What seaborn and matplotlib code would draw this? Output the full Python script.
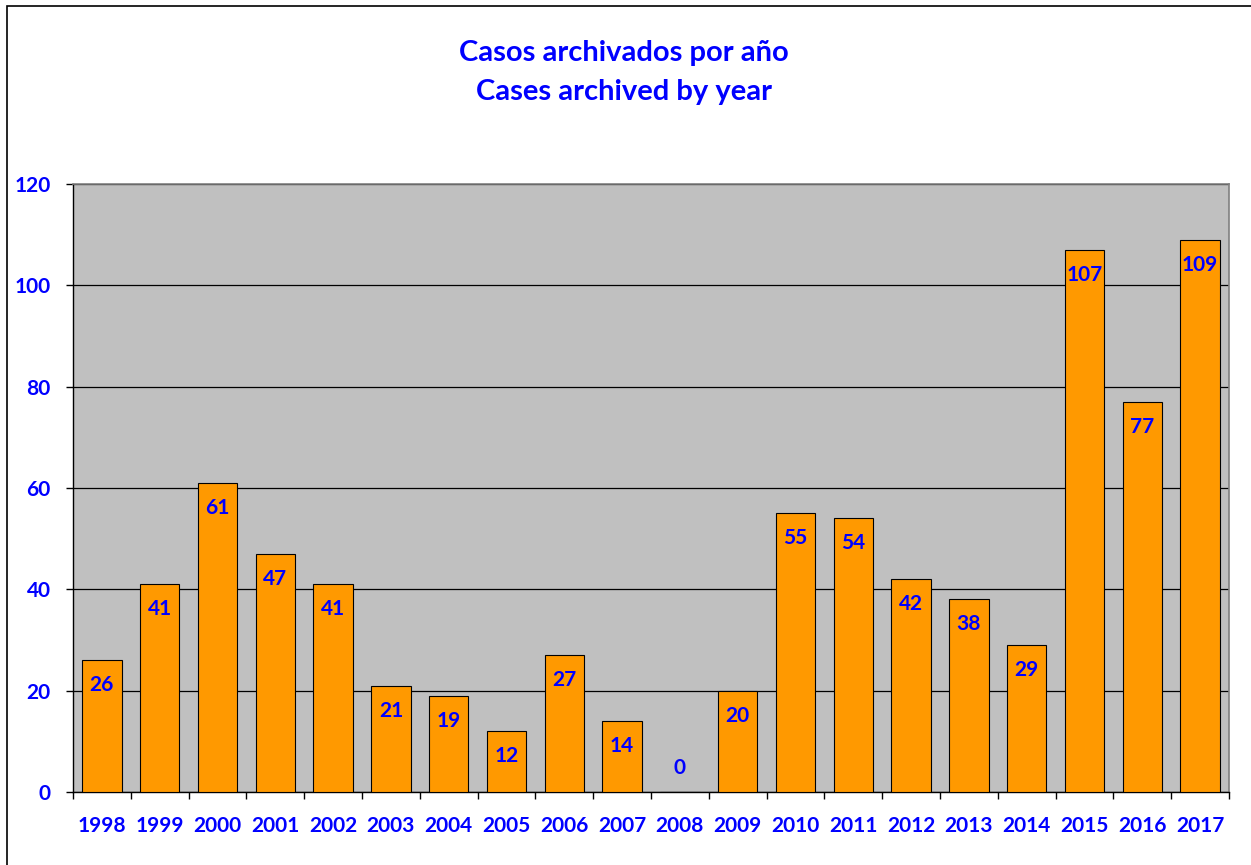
import matplotlib
matplotlib.use("Agg")
import matplotlib.pyplot as plt
import seaborn as sns
import pandas as pd
from matplotlib.patches import Rectangle

years = ["1998", "1999", "2000", "2001", "2002", "2003", "2004", "2005", "2006", "2007",
         "2008", "2009", "2010", "2011", "2012", "2013", "2014", "2015", "2016", "2017"]
cases = [26, 41, 61, 47, 41, 21, 19, 12, 27, 14, 0, 20, 55, 54, 42, 38, 29, 107, 77, 109]
title_lines = ["Casos archivados por año", "Cases archived by year"]
yticks = [0, 20, 40, 60, 80, 100, 120]

sns.set_theme(style="white")
plt.rcParams['font.family'] = ['Lato', 'DejaVu Sans']

W, H = 1251, 865
fig = plt.figure(figsize=(W / 100, H / 100), dpi=100)
ax = fig.add_axes([73 / W, 1 - 792 / H, (1229 - 73) / W, (792 - 184) / H])

df = pd.DataFrame({"year": years, "cases": cases})
sns.barplot(data=df, x="year", y="cases", ax=ax, color="#FF9900", saturation=1,
            width=0.68, edgecolor="black", linewidth=0.8, zorder=3)

ax.set_facecolor("#C0C0C0")
ax.set_ylim(0, 120)
ax.set_xlim(-0.5, len(years) - 0.5)
ax.set_yticks(yticks)
ax.yaxis.grid(True, color="black", linewidth=0.9, zorder=1)
ax.set_axisbelow(True)
ax.set_xlabel("")
ax.set_ylabel("")

for side in ["top", "right"]:
    ax.spines[side].set_color("#808080")
    ax.spines[side].set_linewidth(1.2)
for side in ["left", "bottom"]:
    ax.spines[side].set_color("black")
    ax.spines[side].set_linewidth(1.0)

ax.tick_params(axis="y", which="both", left=True, length=5, width=1, color="black",
               labelcolor="#0000FF", labelsize=15, pad=11)
for lbl in ax.get_yticklabels():
    lbl.set_fontweight("bold")

# x: ticks between categories
ax.set_xticks(range(len(years)))
ax.set_xticklabels(years)
ax.tick_params(axis="x", which="major", bottom=False, length=0, labelcolor="#0000FF",
               labelsize=15, pad=17)
for lbl in ax.get_xticklabels():
    lbl.set_fontweight("bold")
ax.set_xticks([i - 0.5 for i in range(len(years) + 1)], minor=True)
ax.tick_params(axis="x", which="minor", bottom=True, length=5, width=1, color="black")

for i, v in enumerate(cases):
    off = 17 if v == 0 else -18
    ax.annotate(str(v), (i, v), xytext=(0, off), textcoords="offset points",
                ha="center", va="center", color="#0000FF", fontsize=15,
                fontweight="bold", zorder=5)

fig.text(624 / W, 1 - 53 / H, title_lines[0], ha="center", va="center",
         color="#0000FF", fontsize=21, fontweight="bold")
fig.text(624 / W, 1 - 92 / H, title_lines[1], ha="center", va="center",
         color="#0000FF", fontsize=21, fontweight="bold")

# outer chart frame (top and left visible)
fig.patches.append(Rectangle((7 / W, -0.1), 1.2, 1 - 6 / H + 0.1, transform=fig.transFigure,
                             fill=False, edgecolor="black", linewidth=1.2))

fig.savefig("out.png", dpi=100, facecolor="white")
